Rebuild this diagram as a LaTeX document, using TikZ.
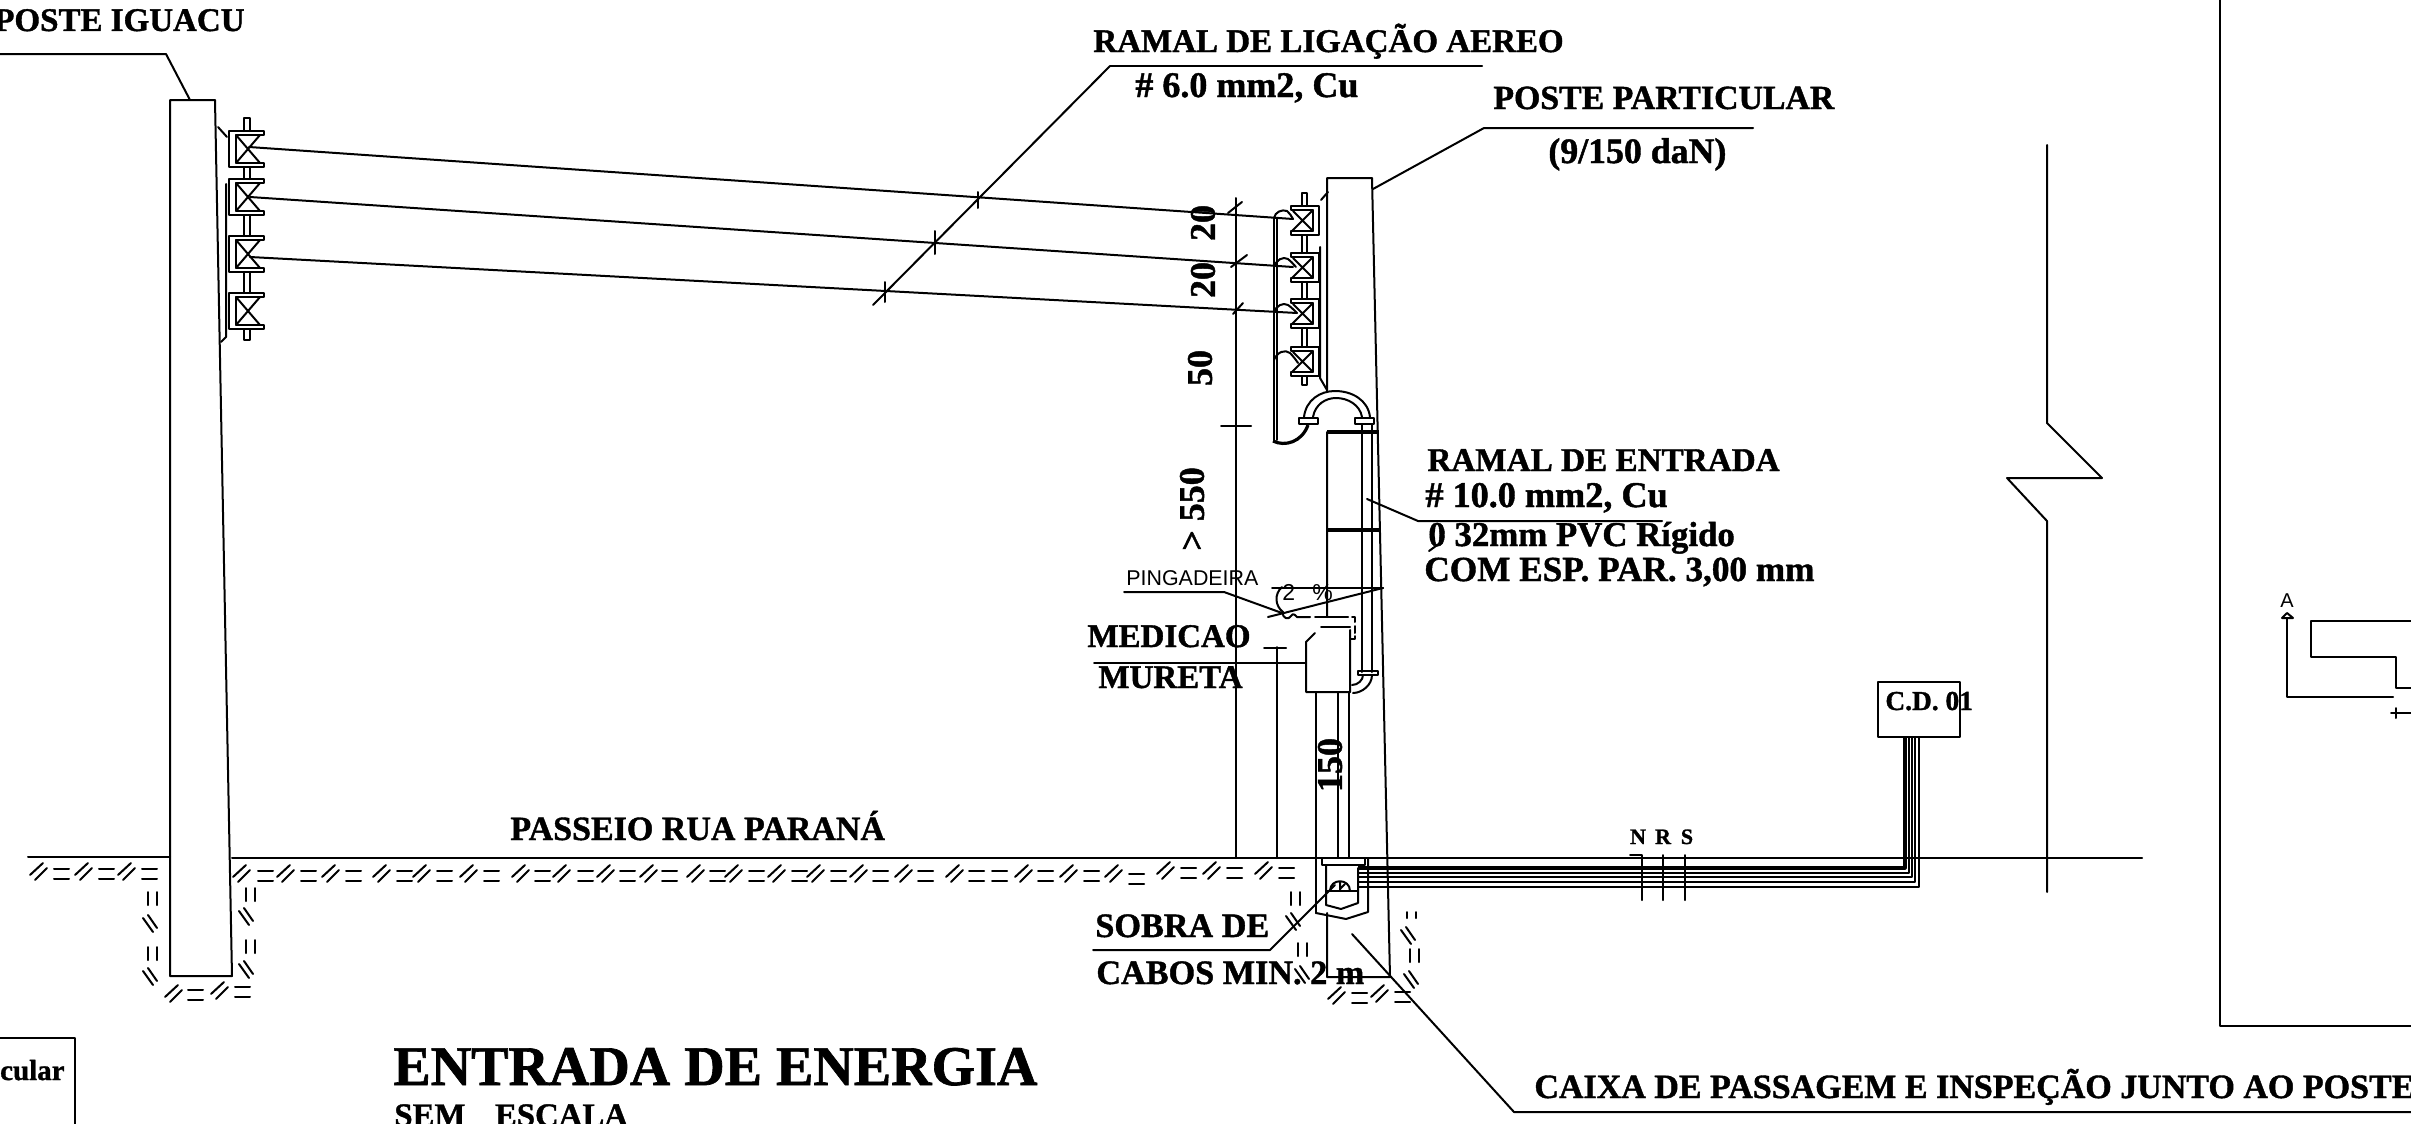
\documentclass[tikz,border=0pt]{standalone}
\usepackage{fontspec}
\setmainfont{Liberation Serif}[BoldFeatures={FakeBold=1.2}]
\newfontfamily\cadfont{Liberation Sans}
\newcommand\pxfont[1]{\fontsize{#1}{#1}\selectfont\bfseries}
\newcommand\hsl[2]{\draw[ln] (#1,#2+12)--(#1+13,#2) (#1+5,#2+17)--(#1+17,#2+5);}
\newcommand\heq[2]{\draw[ln] (#1,#2)--(#1+15,#2) (#1,#2+10)--(#1+15,#2+10);}
\newcommand\hvt[2]{\draw[ln] (#1,#2)--(#1,#2+13) (#1+9,#2)--(#1+9,#2+13);}
\newcommand\hbk[2]{\draw[ln] (#1,#2+3)--(#1+10,#2+17) (#1+5,#2)--(#1+14,#2+13);}
\newcommand\insL[1]{%
  \draw[ln] (264,#1)--(229,#1)--(229,#1+36)--(264,#1+36)--(264,#1+32)--(236,#1+32)--(236,#1+4)--(264,#1+4)--cycle;
  \draw[ln] (236,#1+4)--(260,#1+32) (260,#1+4)--(236,#1+32);}
\newcommand\insR[1]{%
  \draw[ln] (1291,#1)--(1319,#1)--(1319,#1+29)--(1291,#1+29)--(1291,#1+25)--(1313,#1+25)--(1313,#1+4)--(1291,#1+4)--cycle;
  \draw[ln] (1293,#1+5)--(1313,#1+25) (1313,#1+4)--(1292,#1+25);}
\tikzset{
  x=0.5pt,y=-0.5pt,
  ln/.style={line width=1pt,line cap=round,line join=round},
  thk/.style={line width=1.6pt,line join=round},
  lab/.style={inner sep=0pt,anchor=base west,font=\pxfont{16.5}},
  labe/.style={inner sep=0pt,anchor=base east,font=\pxfont{16.5}},
  big/.style={inner sep=0pt,anchor=base west,font=\pxfont{28}},
  dimn/.style={inner sep=0pt,rotate=90,font=\pxfont{18}},
  cad/.style={inner sep=0pt,anchor=base west,font=\cadfont\fontsize{10.7}{12}\selectfont},
}
\begin{document}
\begin{tikzpicture}
\useasboundingbox (0,0) rectangle (2411,1124);
\clip (0,0) rectangle (2411,1124);

% ---- ground
\draw[ln] (28,857)--(170,857) (232,858)--(2142,858);

% ---- left pole
\draw[ln] (170,100)--(215,100)--(232,976)--(170,976)--cycle;
\draw[ln] (0,54)--(166,54)--(190,100);
\draw[ln] (218,127)--(227,137);
\draw[ln] (226,184)--(226,337)--(221,342);
\foreach \y in {131,179,236,293}{\insL{\y}}
\draw[ln] (244,131)--(244,118)--(250,118)--(250,131);
\draw[ln] (244,167)--(244,179) (250,167)--(250,179);
\draw[ln] (244,215)--(244,236) (250,215)--(250,236);
\draw[ln] (244,272)--(244,293) (250,272)--(250,293);
\draw[ln] (244,329)--(244,340)--(250,340)--(250,329);

% ---- wires
\draw[ln] (249,147)--(1293,219);
\draw[ln] (250,197)--(1293,267);
\draw[ln] (250,257)--(1297,313);
\draw[ln] (1110,66)--(1482,66);
\draw[ln] (1110,66)--(873,305);
\draw[ln] (978,192)--(978,208) (935,231)--(935,254) (885,282)--(885,302);

% ---- right pole
\draw[ln] (1327,617)--(1327,432) (1327,391)--(1327,178)--(1372,178)--(1390,977)--(1327,977)--(1327,913);
\draw[ln] (1373,189)--(1484,128)--(1753,128);
\draw[ln] (1321,200)--(1328,192);
\draw[ln] (1320,247)--(1320,378)--(1327,390);
\foreach \y in {206,253,299,347}{\insR{\y}}
\draw[ln] (1302,206)--(1302,193)--(1307,193)--(1307,206);
\draw[ln] (1302,235)--(1302,253) (1307,235)--(1307,253);
\draw[ln] (1302,282)--(1302,299) (1307,282)--(1307,299);
\draw[ln] (1302,328)--(1302,347) (1307,328)--(1307,347);
\draw[ln] (1302,376)--(1302,385)--(1307,385)--(1307,376);

% ---- cable bundle and loops
\draw[ln] (1274,218)--(1274,440) (1277,218)--(1277,440);
\draw[ln] (1274,218) .. controls (1275,212) and (1282,209) .. (1287,211) .. controls (1290,213) and (1291,216) .. (1293,219);
\draw[ln] (1274,267) .. controls (1276,260) and (1283,256) .. (1288,259) .. controls (1291,261) and (1293,264) .. (1296,267);
\draw[ln] (1274,312) .. controls (1276,306) and (1283,302) .. (1288,305) .. controls (1291,307) and (1294,310) .. (1297,313);
\draw[ln] (1274,360) .. controls (1277,352) and (1285,349) .. (1290,353) .. controls (1293,356) and (1296,360) .. (1298,363);
\draw[thk] (1273,441) .. controls (1285,447) and (1302,442) .. (1308,425);

% ---- arch
\draw[ln] (1304,417) .. controls (1306,400) and (1320,391) .. (1335,391) .. controls (1352,391) and (1368,400) .. (1370,417);
\draw[ln] (1313,417) .. controls (1315,405) and (1325,398) .. (1336,398) .. controls (1348,398) and (1360,405) .. (1362,417);
\draw[ln] (1299,418) rectangle (1318,424);
\draw[ln] (1355,418) rectangle (1374,424);

% ---- conduit
\draw[ln] (1362,424)--(1362,672) (1372,424)--(1372,672);
\draw[thk] (1327,432)--(1379,432);
\draw[thk] (1327,530)--(1381,530);
\draw[ln] (1358,671) rectangle (1378,675);
\draw[ln] (1372,675) .. controls (1372,685) and (1362,693) .. (1353,693);
\draw[ln] (1363,675) .. controls (1363,680) and (1358,685) .. (1352,685);
\draw[ln] (1350,678)--(1350,692);

% ---- slope and pingadeira
\draw[ln] (1272,588)--(1383,588);
\draw[ln] (1268,617)--(1383,588);
\draw[ln] (1124,592)--(1224,592)--(1282,613);
\draw[ln] (1282,587) .. controls (1274,594) and (1275,606) .. (1283,612);
\draw[ln] (1283,612) .. controls (1282,619) and (1289,620) .. (1291,616) .. controls (1293,612) and (1296,616) .. (1297,617)--(1310,617);

% ---- meter box
\draw[ln] (1315,617)--(1348,617);
\draw[ln] (1352,617)--(1355,617)--(1355,622) (1355,626)--(1355,633) (1355,636)--(1355,639)--(1350,639);
\draw[ln] (1321,627)--(1350,627);
\draw[ln] (1315,633)--(1306,642)--(1306,692)--(1350,692)--(1350,630);
\draw[ln] (1094,663)--(1306,663);
\draw[ln] (1316,692)--(1316,913) (1338,692)--(1338,858) (1349,692)--(1349,858);

% ---- dimension lines
\draw[ln] (1236,198)--(1236,858);
\draw[ln] (1228,213)--(1242,202) (1231,267)--(1247,255) (1233,314)--(1243,303);
\draw[ln] (1221,426)--(1251,426);
\draw[ln] (1277,647)--(1277,858);
\draw[ln] (1264,648)--(1286,648);

% ---- inspection box
\draw[ln] (1322,858)--(1322,865)--(1365,865)--(1365,858);
\draw[ln] (1316,913)--(1346,919)--(1368,912)--(1368,858);
\draw[ln] (1326,865)--(1326,905)--(1341,909)--(1358,903)--(1358,868);
\draw[ln] (1326,891)--(1358,891);
\draw[ln] (1330,891) .. controls (1330,878) and (1350,878) .. (1350,891);
\draw[ln] (1340,882)--(1340,891) (1345,884)--(1340,889);
\draw[ln] (1093,950)--(1270,950)--(1335,885);
\draw[ln] (1352,934)--(1514,1112)--(2411,1112);

% ---- cables
\draw[thk] (1358,868)--(1905,868)--(1905,737);
\draw[ln] (1358,873)--(1909,873)--(1909,737);
\draw[ln] (1358,877)--(1912,877)--(1912,737);
\draw[ln] (1358,882)--(1915,882)--(1915,737);
\draw[thk,line width=1.2pt] (1358,887)--(1919,887)--(1919,737);
\draw[ln] (1630,855)--(1642,855)--(1642,900);
\draw[ln] (1663,855)--(1663,900);
\draw[ln] (1685,855)--(1685,900);
\draw[ln] (1878,682) rectangle (1960,737);

% ---- wall
\draw[ln] (2047,145)--(2047,423)--(2102,478)--(2007,478)--(2047,521)--(2047,892);

% ---- right frame and section mark
\draw[ln] (2220,0)--(2220,1026)--(2411,1026);
\draw[ln] (2393,697)--(2287,697)--(2287,619);
\draw[ln] (2282,618)--(2293,618)--(2287,613)--cycle;
\draw[ln] (2411,621)--(2311,621)--(2311,657)--(2396,657)--(2396,688)--(2411,688);
\draw[ln] (2391,713)--(2411,713) (2396,708)--(2396,718);

% ---- bottom left box
\draw[ln] (0,1038)--(75,1038)--(75,1124);

% ---- soil hatching
\foreach \x in {30,75,118}{\hsl{\x}{863}}
\foreach \x in {54,99,142}{\heq{\x}{869}}
\foreach \x in {233,277,322,373,413,460,512,553,597,640,687,725,768,807,850,895,946,1015,1060,1105}{\hsl{\x}{865}}
\foreach \x in {258,301,346,397,437,484,535,578,620,662,710,749,792,831,873,918,969,992,1038,1084}{\heq{\x}{871}}
\heq{1129}{874}
\foreach \x in {1157,1203,1255}{\hsl{\x}{862}}
\foreach \x in {1181,1227,1279}{\heq{\x}{868}}
% left footing
\hvt{148}{892}\hbk{143}{915}\hvt{148}{947}\hbk{143}{968}
\hsl{165}{985}\heq{188}{990}\hsl{211}{982}\heq{235}{987}
\hvt{246}{888}\hbk{239}{908}\hvt{246}{940}\hbk{239}{961}
% right footing
\hvt{1291}{892}\hbk{1286}{913}\hvt{1298}{943}\hbk{1295}{966}
\hsl{1328}{987}\heq{1352}{993}\hsl{1371}{985}\heq{1395}{992}
\draw[ln] (1407,912)--(1407,918) (1416,912)--(1416,918);
\hbk{1401}{927}\hvt{1410}{949}\hbk{1404}{971}

% ---- labels
\node[labe] (posteiguacu) at (245,31) {POSTE IGUACU};
\node[lab] (ramalligacao) at (1093,52) {RAMAL DE LIGAÇÃO AEREO};
\node[lab,font=\pxfont{18}] (bitola) at (1135,97) {\# 6.0 mm2, Cu};
\node[lab,font=\pxfont{16.9}] (posteparticular) at (1493,109) {POSTE PARTICULAR};
\node[lab,font=\pxfont{17.9}] (forca) at (1548,163) {(9/150 daN)};
\node[lab,font=\pxfont{16.6}] (ramalentrada) at (1427,471) {RAMAL DE ENTRADA};
\node[lab,font=\pxfont{18.1}] (bitolab) at (1425,507) {\# 10.0 mm2, Cu};
\node[lab,font=\pxfont{17.4}] (pvc) at (1428,546) {0 32mm PVC Rígido};
\node[lab,font=\pxfont{17.6}] (esp) at (1424,581) {COM ESP. PAR. 3,00 mm};
\draw[ln] (1367,499)--(1418,521)--(1662,521);
\draw[ln] (1429,551)--(1440,543);
\node[lab] (medicao) at (1087,647) {MEDICAO};
\node[lab] (mureta) at (1098,688) {MURETA};
\node[lab,font=\pxfont{17}] (passeio) at (510,840) {PASSEIO RUA PARANÁ};
\node[lab,font=\pxfont{17.1}] (sobra) at (1095,937) {SOBRA DE};
\node[lab,font=\pxfont{17.1}] (cabos) at (1096,984) {CABOS MIN. 2 m};
\draw[ln] (1327,977)--(1390,977);
\node[lab,font=\pxfont{17}] (caixa) at (1534,1098) {CAIXA DE PASSAGEM E INSPEÇÃO JUNTO AO POSTE};
\node[big] (titulo) at (393,1085) {ENTRADA DE ENERGIA};
\node[inner sep=0pt,anchor=base west,font=\pxfont{16.4}] (escala) at (394,1126) {SEM\hspace{0.9em}ESCALA};
\node[inner sep=0pt,anchor=base east,font=\pxfont{14.5}] (particular) at (65,1080) {cular};
\node[inner sep=0pt,anchor=base west,font=\pxfont{13.7}] (cd) at (1885,710) {C.D. 01};
\node[inner sep=0pt,anchor=base,font=\pxfont{11}] (n) at (1638,844) {N};
\node[inner sep=0pt,anchor=base,font=\pxfont{11}] (r) at (1663,844) {R};
\node[inner sep=0pt,anchor=base,font=\pxfont{11}] (s) at (1687,844) {S};
\node[dimn] (d20a) at (1203,223) {20};
\node[dimn] (d20b) at (1203,280) {20};
\node[dimn] (d50) at (1200,368) {50};
\node[dimn] (d550) at (1192,509) {> 550};
\node[dimn] (d150) at (1330,765) {150};
\node[cad] (ping) at (1126,585) {PINGADEIRA};
\node[cad,font=\cadfont\fontsize{11.5}{12}\selectfont] (pct) at (1282,600) {2\hspace{0.75em}\%};
\node[inner sep=0pt,anchor=base,font=\cadfont\fontsize{10}{12}\selectfont] (a) at (2287,607) {A};
\end{tikzpicture}
\end{document}
